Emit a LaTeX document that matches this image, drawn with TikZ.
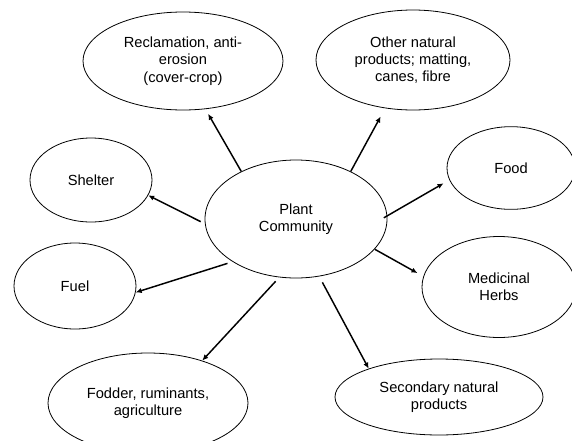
\documentclass[tikz,border=0pt]{standalone}
\usepackage{fontspec}
\setmainfont{Liberation Sans}
\usetikzlibrary{shapes.geometric,arrows.meta}

\begin{document}
\begin{tikzpicture}[x=0.75pt,y=-0.75pt]
        \tikzset{vertex/.style = {shape=ellipse,draw,line width=0.6pt,inner sep=0pt,align=center,
                font=\fontsize{11}{13}\selectfont}}
        \tikzset{edge/.style = {-{Latex[length=4.5pt,width=4pt]},line width=1.1pt}}
        \useasboundingbox (0,0) rectangle (572,440);
        % vertices
        \node[vertex,minimum width=136.5pt,minimum height=88.5pt] (pc) at (296,219) {Plant\\Community};
        \node[vertex,minimum width=150pt,minimum height=73.5pt] (recl) at (183,61) {Reclamation, anti-\\erosion\\(cover-crop)};
        \node[vertex,minimum width=145.5pt,minimum height=75pt] (other) at (413,60) {Other natural\\products; matting,\\canes, fibre};
        \node[vertex,minimum width=91.5pt,minimum height=63pt] (shelter) at (91,180) {Shelter};
        \node[vertex,minimum width=96pt,minimum height=62pt] (food) at (511,168) {Food};
        \node[vertex,minimum width=91.5pt,minimum height=64.5pt] (fuel) at (75,286) {Fuel};
        \node[vertex,minimum width=115.5pt,minimum height=75.75pt] (herbs) at (499,287) {Medicinal\\Herbs};
        \node[vertex,minimum width=150pt,minimum height=75pt] (fodder) at (148,403) {Fodder, ruminants,\\agriculture};
        \node[vertex,minimum width=156pt,minimum height=57pt] (second) at (439,397) {Secondary natural\\products};
        %edges
        \draw[edge,shorten >=4pt] (pc.139) to (recl.-65);
        \draw[edge,shorten >=7pt] (pc.41.5) to (other.240);
        \draw[edge,shorten <=3.5pt] (pc.183.6) to (shelter.-15);
        \draw[edge,shorten >=5pt,shorten <=-3pt] (pc.2) to (food.191);
        \draw[edge,shorten >=5pt] (pc.-21) to (herbs.172);
        \draw[edge,shorten <=4pt] (pc.214) to (fuel.-6);
        \draw[edge,shorten <=4pt] (pc.254) to (fodder.38.5);
        \draw[edge,shorten <=5pt] (pc.292) to (second.158.5);
\end{tikzpicture}
\end{document}
